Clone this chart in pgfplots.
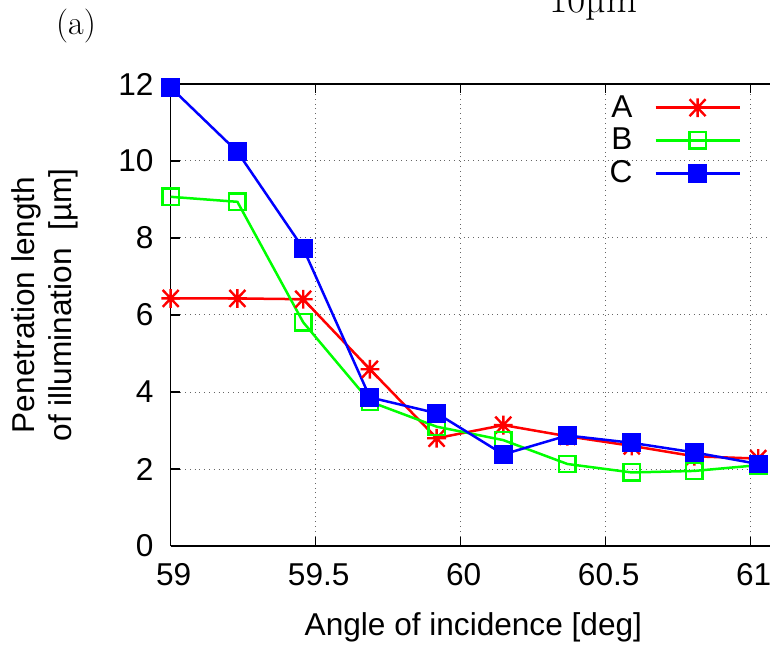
\documentclass[border=0pt]{standalone}
\usepackage{fontspec}
\setsansfont{Liberation Sans}
\usepackage{pgfplots}
\pgfplotsset{compat=1.18}
\definecolor{gpred}{RGB}{255,0,0}
\definecolor{gpgreen}{RGB}{0,255,0}
\definecolor{gpblue}{RGB}{0,0,255}
\pgfdeclareplotmark{gpstar}{%
  \pgfpathmoveto{\pgfqpoint{0pt}{\pgfplotmarksize}}%
  \pgfpathlineto{\pgfqpoint{0pt}{-\pgfplotmarksize}}%
  \pgfpathmoveto{\pgfqpoint{\pgfplotmarksize}{0pt}}%
  \pgfpathlineto{\pgfqpoint{-\pgfplotmarksize}{0pt}}%
  \pgfpathmoveto{\pgfqpoint{0.85\pgfplotmarksize}{0.9\pgfplotmarksize}}%
  \pgfpathlineto{\pgfqpoint{-0.85\pgfplotmarksize}{-0.9\pgfplotmarksize}}%
  \pgfpathmoveto{\pgfqpoint{-0.85\pgfplotmarksize}{0.9\pgfplotmarksize}}%
  \pgfpathlineto{\pgfqpoint{0.85\pgfplotmarksize}{-0.9\pgfplotmarksize}}%
  \pgfusepathqstroke}
\newcommand\gpfont{\sffamily\fontsize{15.8}{18.5}\selectfont}
\begin{document}
\begin{tikzpicture}
\begin{axis}[
  scale only axis, width=299.65pt, height=231pt,
  xmin=59, xmax=61.0666, ymin=0, ymax=12,
  axis x line=box, axis y line*=left,
  tick align=inside,
  xtick={59,59.5,60,60.5,61}, xticklabels={59,59.5,60,60.5,61},
  ytick={0,2,4,6,8,10,12},
  major tick length=4.5pt,
  every tick/.style={black, line width=0.75pt},
  axis line style={black, line width=0.75pt},
  grid=major,
  major grid style={dotted, black!60, line width=0.5pt},
  tick label style={font=\gpfont},
  /pgf/number format/assume math mode=true,
  xticklabel style={yshift=-5.1pt, xshift=1.5pt},
  yticklabel style={xshift=-5.1pt},
  xlabel={Angle of incidence [deg]},
  xlabel style={at={(axis description cs:0.505,0)}, anchor=base, yshift=-44.5pt, font=\gpfont},
  ylabel={Penetration length\\of illumination\ \ [µm]},
  ylabel style={at={(axis description cs:-0.2097,0.522)}, anchor=center, align=center, font=\gpfont},
  clip=false,
  legend style={at={(axis description cs:0.962,0.985)}, anchor=north east, draw=none, fill=none,
    font=\gpfont, row sep=4.0pt, column sep=11pt, nodes={inner sep=0pt}},
  legend cell align=right,
  legend plot pos=right,
  legend image code/.code={\draw[mark repeat=2,mark phase=2,#1] plot coordinates {(0pt,0pt) (21pt,0pt) (42pt,0pt)};},
]
\addplot[color=gpred, line width=1.25pt, mark=gpstar, mark size=4.7pt, mark options={solid, line width=1.2pt}]
  coordinates {(59,6.43) (59.23,6.43) (59.457,6.41) (59.687,4.59) (59.917,2.80) (60.147,3.14) (60.368,2.85) (60.59,2.60) (60.806,2.33) (61.026,2.27)};
\addlegendentry{A}
\addplot[color=gpgreen, line width=1.25pt, mark=square, mark size=4.1pt, mark options={solid, line width=1.2pt}]
  coordinates {(59,9.07) (59.23,8.94) (59.457,5.81) (59.687,3.75) (59.917,3.10) (60.147,2.75) (60.368,2.13) (60.59,1.91) (60.806,1.95) (61.026,2.10)};
\addlegendentry{B}
\addplot[color=gpblue, line width=1.25pt, mark=square*, mark size=4.1pt, mark options={solid, fill=gpblue}]
  coordinates {(59,11.91) (59.23,10.24) (59.457,7.73) (59.687,3.86) (59.917,3.45) (60.147,2.38) (60.368,2.87) (60.59,2.68) (60.806,2.43) (61.026,2.13)};
\addlegendentry{C}
\node[anchor=base, font=\fontsize{17}{20}\selectfont] at (axis description cs:-0.158,1.108) {(a)};
\node[anchor=base, font=\fontsize{20}{24}\selectfont] at (axis description cs:0.7047,1.1558) {10µm};
\coordinate (bl) at (axis description cs:0,0);
\coordinate (tr) at (axis description cs:1,1);
\end{axis}
\pgfresetboundingbox
\path[use as bounding box] ([xshift=-85.35pt,yshift=-56pt]bl) rectangle ([yshift=42pt]tr);
\end{tikzpicture}
\end{document}
